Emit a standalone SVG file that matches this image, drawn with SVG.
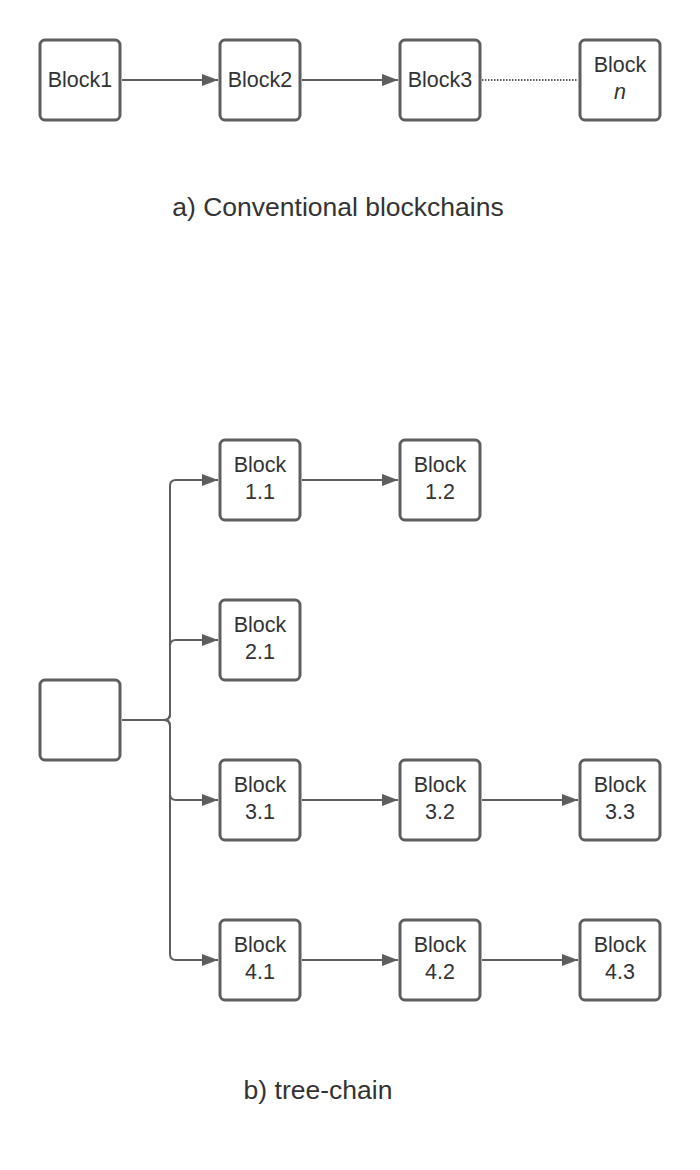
<svg xmlns="http://www.w3.org/2000/svg" width="700" height="1170" viewBox="0 0 700 1170">
<style>
.box{fill:#fff;stroke:#5e5e5e;stroke-width:3}
.t{font-family:"Liberation Sans",Arial,sans-serif;font-size:21.5px;fill:#333;text-anchor:middle}
.cap{font-family:"Liberation Sans",Arial,sans-serif;font-size:26.5px;fill:#333;text-anchor:middle}
.c{fill:none;stroke:#5e5e5e;stroke-width:2}
</style>
<defs>
<marker id="arr" viewBox="0 0 16 12" refX="16" refY="6" markerWidth="16" markerHeight="12" markerUnits="userSpaceOnUse" orient="auto">
<path d="M0 0 L16 6 L0 12 Z" fill="#5e5e5e"/>
</marker>
</defs>
<rect width="700" height="1170" fill="#fff"/>
<g id="connectors">
<path class="c" d="M122 80 H218" marker-end="url(#arr)"/>
<path class="c" d="M302 80 H398" marker-end="url(#arr)"/>
<path class="c" d="M482 80 H578" stroke-width="1.5" stroke-dasharray="1.5 1.5"/>
<path class="c" d="M122 720 H164 Q170 720 170 714 V486 Q170 480 176 480 H218" marker-end="url(#arr)"/>
<path class="c" d="M122 720 H164 Q170 720 170 714 V646 Q170 640 176 640 H218" marker-end="url(#arr)"/>
<path class="c" d="M122 720 H164 Q170 720 170 726 V794 Q170 800 176 800 H218" marker-end="url(#arr)"/>
<path class="c" d="M122 720 H164 Q170 720 170 726 V954 Q170 960 176 960 H218" marker-end="url(#arr)"/>
<path class="c" d="M302 480 H398" marker-end="url(#arr)"/>
<path class="c" d="M302 800 H398" marker-end="url(#arr)"/>
<path class="c" d="M482 800 H578" marker-end="url(#arr)"/>
<path class="c" d="M302 960 H398" marker-end="url(#arr)"/>
<path class="c" d="M482 960 H578" marker-end="url(#arr)"/>
</g>
<g id="block1"><rect class="box" x="40" y="40" width="80" height="80" rx="5"/><text class="t" x="80" y="87">Block1</text></g>
<g id="block2"><rect class="box" x="220" y="40" width="80" height="80" rx="5"/><text class="t" x="260" y="87">Block2</text></g>
<g id="block3"><rect class="box" x="400" y="40" width="80" height="80" rx="5"/><text class="t" x="440" y="87">Block3</text></g>
<g id="blockn"><rect class="box" x="580" y="40" width="80" height="80" rx="5"/><text class="t" x="620" y="72">Block</text><text class="t" x="620" y="99" font-style="italic">n</text></g>
<text class="cap" x="338" y="216">a) Conventional blockchains</text>
<g id="root"><rect class="box" x="40" y="680" width="80" height="80" rx="5"/></g>
<g id="b11"><rect class="box" x="220" y="440" width="80" height="80" rx="5"/><text class="t" x="260" y="472">Block</text><text class="t" x="260" y="499">1.1</text></g>
<g id="b12"><rect class="box" x="400" y="440" width="80" height="80" rx="5"/><text class="t" x="440" y="472">Block</text><text class="t" x="440" y="499">1.2</text></g>
<g id="b21"><rect class="box" x="220" y="600" width="80" height="80" rx="5"/><text class="t" x="260" y="632">Block</text><text class="t" x="260" y="659">2.1</text></g>
<g id="b31"><rect class="box" x="220" y="760" width="80" height="80" rx="5"/><text class="t" x="260" y="792">Block</text><text class="t" x="260" y="819">3.1</text></g>
<g id="b32"><rect class="box" x="400" y="760" width="80" height="80" rx="5"/><text class="t" x="440" y="792">Block</text><text class="t" x="440" y="819">3.2</text></g>
<g id="b33"><rect class="box" x="580" y="760" width="80" height="80" rx="5"/><text class="t" x="620" y="792">Block</text><text class="t" x="620" y="819">3.3</text></g>
<g id="b41"><rect class="box" x="220" y="920" width="80" height="80" rx="5"/><text class="t" x="260" y="952">Block</text><text class="t" x="260" y="979">4.1</text></g>
<g id="b42"><rect class="box" x="400" y="920" width="80" height="80" rx="5"/><text class="t" x="440" y="952">Block</text><text class="t" x="440" y="979">4.2</text></g>
<g id="b43"><rect class="box" x="580" y="920" width="80" height="80" rx="5"/><text class="t" x="620" y="952">Block</text><text class="t" x="620" y="979">4.3</text></g>
<text class="cap" x="318" y="1099">b) tree-chain</text>
</svg>
